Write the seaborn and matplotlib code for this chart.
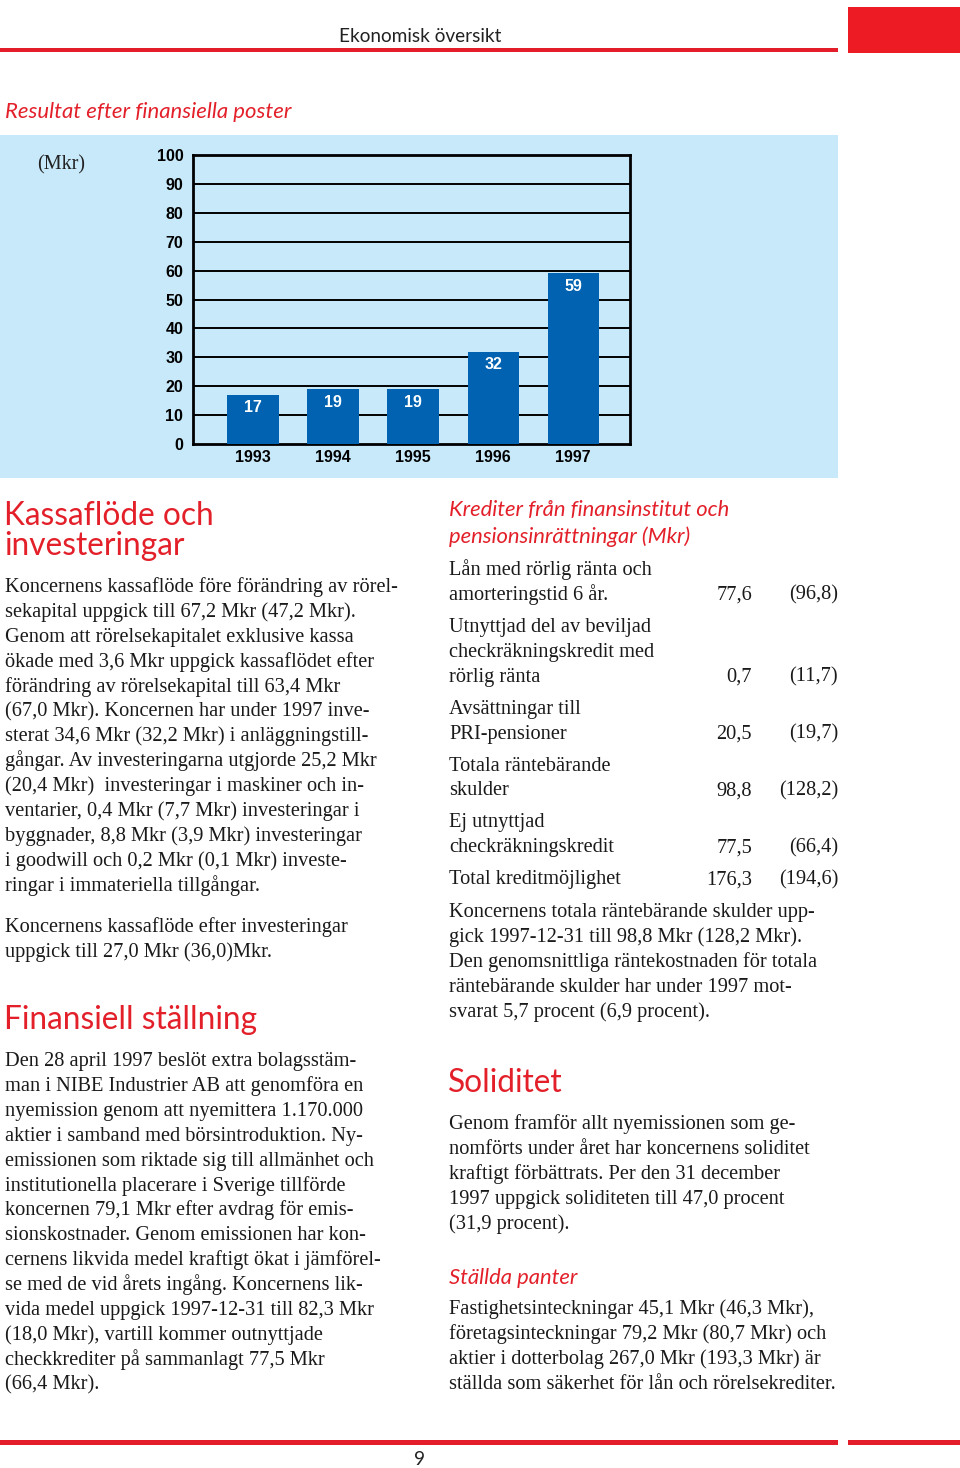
import matplotlib
matplotlib.use("Agg")
import matplotlib.pyplot as plt
import seaborn as sns
from matplotlib.patches import Rectangle

# chart data
years = ["1993", "1994", "1995", "1996", "1997"]
resultat = [17, 19, 19, 32, 59]
y_ticks = [0, 10, 20, 30, 40, 50, 60, 70, 80, 90, 100]

# credit table
kredit_rows = [
    (["Lån med rörlig ränta och", "amorteringstid 6 år."], "77,6", "(96,8)"),
    (["Utnyttjad del av beviljad", "checkräkningskredit med", "rörlig ränta"], "0,7", "(11,7)"),
    (["Avsättningar till", "PRI-pensioner"], "20,5", "(19,7)"),
    (["Totala räntebärande", "skulder"], "98,8", "(128,2)"),
    (["Ej utnyttjad", "checkräkningskredit"], "77,5", "(66,4)"),
    (["Total kreditmöjlighet"], "176,3", "(194,6)"),
]

kassaflode_1 = [
    "Koncernens kassaflöde före förändring av rörel-",
    "sekapital uppgick till 67,2 Mkr (47,2 Mkr).",
    "Genom att rörelsekapitalet exklusive kassa",
    "ökade med 3,6 Mkr uppgick kassaflödet efter",
    "förändring av rörelsekapital till 63,4 Mkr",
    "(67,0 Mkr). Koncernen har under 1997 inve-",
    "sterat 34,6 Mkr (32,2 Mkr) i anläggningstill-",
    "gångar. Av investeringarna utgjorde 25,2 Mkr",
    "(20,4 Mkr)  investeringar i maskiner och in-",
    "ventarier, 0,4 Mkr (7,7 Mkr) investeringar i",
    "byggnader, 8,8 Mkr (3,9 Mkr) investeringar",
    "i goodwill och 0,2 Mkr (0,1 Mkr) investe-",
    "ringar i immateriella tillgångar.",
]
kassaflode_2 = [
    "Koncernens kassaflöde efter investeringar",
    "uppgick till 27,0 Mkr (36,0)Mkr.",
]
finansiell = [
    "Den 28 april 1997 beslöt extra bolagsstäm-",
    "man i NIBE Industrier AB att genomföra en",
    "nyemission genom att nyemittera 1.170.000",
    "aktier i samband med börsintroduktion. Ny-",
    "emissionen som riktade sig till allmänhet och",
    "institutionella placerare i Sverige tillförde",
    "koncernen 79,1 Mkr efter avdrag för emis-",
    "sionskostnader. Genom emissionen har kon-",
    "cernens likvida medel kraftigt ökat i jämförel-",
    "se med de vid årets ingång. Koncernens lik-",
    "vida medel uppgick 1997-12-31 till 82,3 Mkr",
    "(18,0 Mkr), vartill kommer outnyttjade",
    "checkkrediter på sammanlagt 77,5 Mkr",
    "(66,4 Mkr).",
]
skulder = [
    "Koncernens totala räntebärande skulder upp-",
    "gick 1997-12-31 till 98,8 Mkr (128,2 Mkr).",
    "Den genomsnittliga räntekostnaden för totala",
    "räntebärande skulder har under 1997 mot-",
    "svarat 5,7 procent (6,9 procent).",
]
soliditet = [
    "Genom framför allt nyemissionen som ge-",
    "nomförts under året har koncernens soliditet",
    "kraftigt förbättrats. Per den 31 december",
    "1997 uppgick soliditeten till 47,0 procent",
    "(31,9 procent).",
]
panter = [
    "Fastighetsinteckningar 45,1 Mkr (46,3 Mkr),",
    "företagsinteckningar 79,2 Mkr (80,7 Mkr) och",
    "aktier i dotterbolag 267,0 Mkr (193,3 Mkr) är",
    "ställda som säkerhet för lån och rörelsekrediter.",
]

RED = "#e3202a"
BLUE = "#0062b0"
PANEL = "#c8e9f9"
SERIF = "Liberation Serif"
SANS = "Lato"
BODY = 14.7
LEAD = 24.9

W, H = 960, 1468
fig = plt.figure(figsize=(W / 100, H / 100), dpi=100)
page = fig.add_axes([0, 0, 1, 1], zorder=0)
page.set_xlim(0, W)
page.set_ylim(H, 0)
page.axis("off")

# header / footer rules
page.add_patch(Rectangle((848, 7), 112, 46, color="#ed1c24", lw=0))
page.add_patch(Rectangle((0, 48), 838, 4, color="#e31e2a", lw=0))
page.add_patch(Rectangle((0, 1440), 838, 5, color="#e31e2a", lw=0))
page.add_patch(Rectangle((848, 1440), 112, 5, color="#e31e2a", lw=0))
page.text(420, 42, "Ekonomisk översikt", family=SANS, fontsize=13.7,
          ha="center", va="baseline", color="#222222")
page.text(420, 1465, "9", family=SANS, fontsize=13.7, ha="center", va="baseline", color="#222222")

page.text(5, 118, "Resultat efter finansiella poster", family=SANS, style="italic",
          fontsize=15.9, color=RED, va="baseline")
page.add_patch(Rectangle((0, 135), 838, 343, color=PANEL, lw=0))
page.text(37, 169, "(Mkr)", family=SERIF, fontsize=14.5, va="baseline", color="#222222")

# bar chart
ax = fig.add_axes([193 / W, 1 - 444 / H, (630 - 193) / W, (444 - 155) / H], zorder=1)
ax.set_facecolor(PANEL)
sns.barplot(x=years, y=resultat, color=BLUE, width=0.64, saturation=1, ax=ax, zorder=3)
ax.set_xlim(-0.75, 4.71)
ax.set_ylim(0, 100)
ax.set_yticks(y_ticks)
ax.set_yticklabels([str(t) for t in y_ticks], fontweight="bold", fontsize=11.5, family="Liberation Sans")
for lab in ax.get_xticklabels():
    lab.set_fontweight("bold")
    lab.set_fontsize(11.5)
    lab.set_family("Liberation Sans")
ax.tick_params(length=0, pad=7)
ax.tick_params(axis="x", pad=4)
for t in y_ticks[1:-1]:
    ax.axhline(t, color="black", lw=1.4, zorder=2)
for s in ax.spines.values():
    s.set_linewidth(2)
    s.set_color("black")
ax.set_xlabel("")
ax.set_ylabel("")
for i, v in enumerate(resultat):
    ax.annotate(str(v), (i, v), xytext=(0, -4), textcoords="offset points", ha="center", va="top",
                color="white", fontweight="bold", fontsize=11.5, family="Liberation Sans", zorder=4)


def para(x, y0, lines):
    for k, line in enumerate(lines):
        page.text(x, y0 + k * LEAD, line, family=SERIF, fontsize=BODY, va="baseline", color="#1a1a1a")


def heading(x, y, text):
    page.text(x, y, text, family=SANS, fontsize=22.8, color=RED, va="baseline")


def subhead(x, y, text):
    page.text(x, y, text, family=SANS, style="italic", fontsize=15.8, color=RED, va="baseline")


# left column
heading(4, 525, "Kassaflöde och")
heading(4, 555, "investeringar")
para(5, 592, kassaflode_1)
para(5, 932, kassaflode_2)
heading(4, 1029, "Finansiell ställning")
para(5, 1066, finansiell)

# right column
subhead(449, 516, "Krediter från finansinstitut och")
subhead(449, 543, "pensionsinrättningar (Mkr)")
y = 575
for labels, v1, v2 in kredit_rows:
    for k, lab in enumerate(labels):
        page.text(449, y + k * LEAD, lab, family=SERIF, fontsize=BODY, va="baseline", color="#1a1a1a")
    yl = y + (len(labels) - 1) * LEAD
    page.text(752, yl, v1, family=SERIF, fontsize=BODY, va="baseline", ha="right", color="#1a1a1a")
    page.text(838, yl, v2, family=SERIF, fontsize=BODY, va="baseline", ha="right", color="#1a1a1a")
    y = yl + 32
para(449, 917, skulder)
heading(448, 1092, "Soliditet")
para(449, 1129, soliditet)
subhead(449, 1284, "Ställda panter")
para(449, 1314, panter)

fig.savefig("out.png", dpi=100)
